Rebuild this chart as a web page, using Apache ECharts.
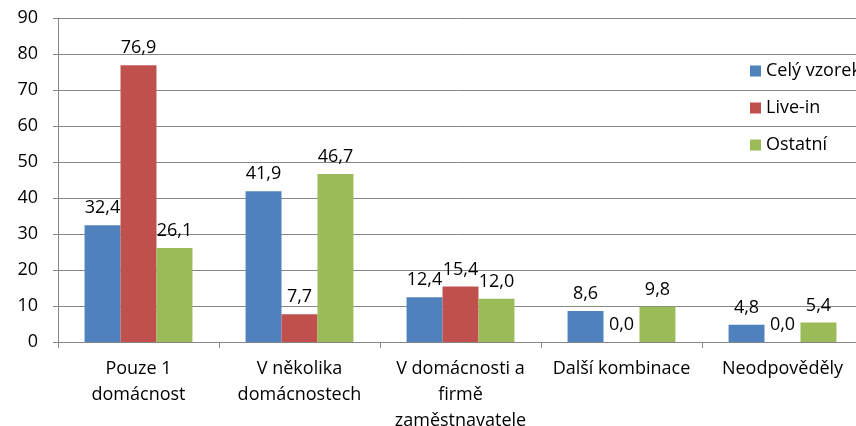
<!DOCTYPE html>
<html>
<head>
<meta charset="utf-8">
<script src="https://cdn.jsdelivr.net/npm/echarts@6/dist/echarts.min.js"></script>
<style>
  html, body { margin: 0; padding: 0; background: #fff; }
  #chart { width: 856px; height: 426px; }
</style>
</head>
<body>
<div id="chart"></div>
<script>
// kategorie
var categories = ["Pouze 1\ndomácnost", "V několika\ndomácnostech", "V domácnosti a\nfirmě\nzaměstnavatele", "Další kombinace", "Neodpověděly"];
// řady
var seriesNames = ["Celý vzorek", "Live-in", "Ostatní"];
var celyVzorek = [32.4, 41.9, 12.4, 8.6, 4.8];
var liveIn = [76.9, 7.7, 15.4, 0.0, 0.0];
var ostatni = [26.1, 46.7, 12.0, 9.8, 5.4];
var colors = ["#4F81BD", "#C0504D", "#9BBB59"];

var font = "'Open Sans', sans-serif";
var fs = 18;

function bar(name, data, color) {
    return {
        name: name,
        type: 'bar',
        data: data,
        barGap: '0%',
        barCategoryGap: '33%',
        itemStyle: { color: color },
        label: {
            show: true,
            position: 'top',
            distance: 8,
            color: '#000',
            fontFamily: font,
            fontSize: fs,
            formatter: function (p) {
                return p.value.toFixed(1).replace('.', ',');
            }
        }
    };
}

var myChart = echarts.init(document.getElementById('chart'), null, { renderer: 'canvas' });
var option = {
    animation: false,
    textStyle: { fontFamily: font },
    grid: {
        left: 58,
        right: -7,
        top: 18,
        bottom: 84,
        containLabel: false,
        outerBoundsMode: 'none'
    },
    legend: {
        orient: 'vertical',
        left: 745,
        top: 56,
        itemWidth: 11,
        itemHeight: 11,
        itemGap: 17,
        icon: 'rect',
        data: seriesNames,
        textStyle: { color: '#000', fontSize: fs, fontFamily: font, lineHeight: 20 }
    },
    xAxis: {
        type: 'category',
        data: categories,
        axisLine: { lineStyle: { color: '#868686', width: 1 } },
        axisTick: { show: true, length: 6, lineStyle: { color: '#868686' } },
        axisLabel: {
            color: '#000',
            fontSize: fs,
            fontFamily: font,
            lineHeight: 26,
            margin: 14,
            interval: 0
        }
    },
    yAxis: {
        type: 'value',
        min: 0,
        max: 90,
        interval: 10,
        axisLine: { show: true, lineStyle: { color: '#868686', width: 1 } },
        axisTick: { show: true, length: 5, lineStyle: { color: '#868686' } },
        splitLine: { lineStyle: { color: '#868686', width: 1 } },
        axisLabel: { color: '#000', fontSize: fs, fontFamily: font, margin: 20 }
    },
    series: [
        bar(seriesNames[0], celyVzorek, colors[0]),
        bar(seriesNames[1], liveIn, colors[1]),
        bar(seriesNames[2], ostatni, colors[2])
    ]
};
myChart.setOption(option);
</script>
</body>
</html>
